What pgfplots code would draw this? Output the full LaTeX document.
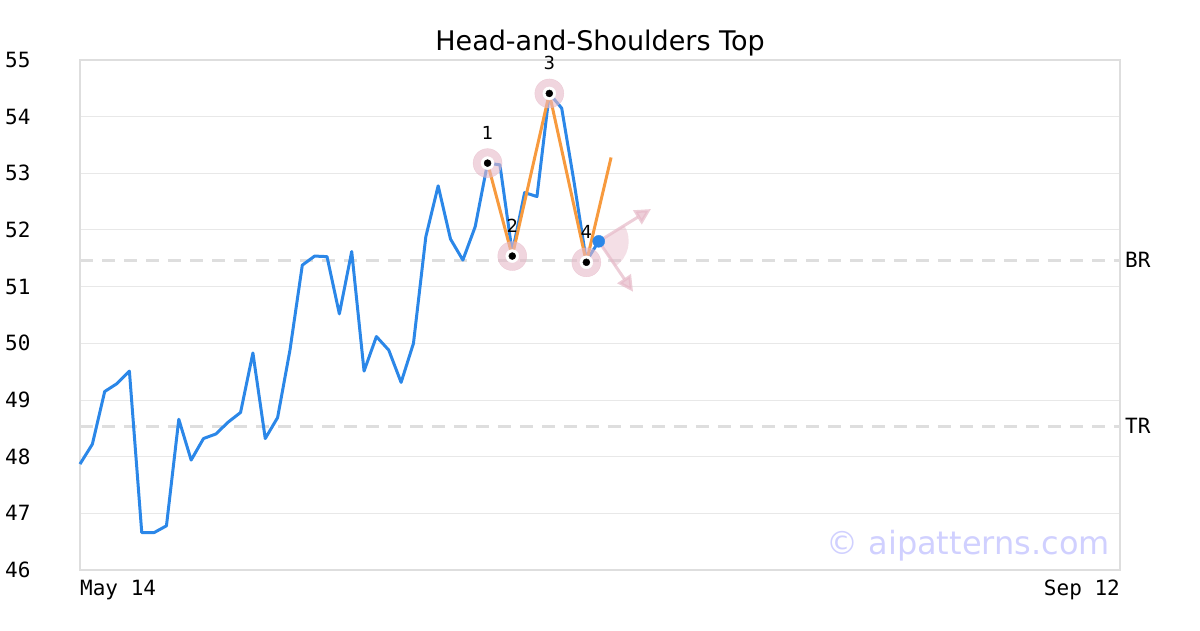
\documentclass[border=0pt]{standalone}
\usepackage{fontspec}
\setmainfont{DejaVu Sans}
\newfontfamily\monofont{DejaVu Sans Mono}
\usepackage{pgfplots}
\pgfplotsset{compat=1.18}
\usetikzlibrary{arrows.meta}
\definecolor{bl}{RGB}{43,135,232}
\definecolor{orng}{RGB}{247,154,62}
\definecolor{pk}{RGB}{230,185,200}
\definecolor{grd}{RGB}{232,232,232}
\definecolor{frm}{RGB}{222,222,222}
\definecolor{wm}{RGB}{208,208,255}
\begin{document}
\begin{tikzpicture}[x=1pt,y=1pt]
\useasboundingbox (0,0) rectangle (1200,630);
\begin{axis}[
  at={(80pt,60pt)}, anchor=south west, scale only axis,
  width=1040pt, height=510pt,
  xmin=0, xmax=84.21, ymin=46, ymax=55,
  ytick={46,47,...,55},
  ymajorgrids, grid style={grd, line width=1pt},
  axis line style={frm, line width=2.5pt},
  major tick length=0pt,
  tick label style={font=\fontsize{21}{25}\monofont},
  /pgf/number format/assume math mode=true,
  yticklabel style={anchor=west, inner sep=0pt, xshift=-75pt},
  xtick={0}, xticklabels={May 14},
  xticklabel style={anchor=north west, inner sep=0pt, yshift=-10pt},
  extra x ticks={84.21}, extra x tick labels={Sep 12},
  extra x tick style={xticklabel style={anchor=north east}},
  title={Head-and-Shoulders Top},
  title style={at={(0.5,1)}, anchor=base, inner sep=0pt, yshift=3pt, font=\fontsize{27}{32}\selectfont},
  clip=false,
]
% reference lines
\addplot[color=frm, line width=3pt, dash pattern=on 13pt off 9pt] coordinates {(0,51.47) (84.21,51.47)};
\addplot[color=frm, line width=3pt, dash pattern=on 13pt off 9pt] coordinates {(0,48.54) (84.21,48.54)};
% price
\addplot[color=bl, line width=3pt, line join=round] coordinates {
(0,47.87) (1,48.22) (2,49.15) (3,49.29) (4,49.51) (5,46.66) (6,46.66) (7,46.78)
(8,48.66) (9,47.94) (10,48.32) (11,48.40) (12,48.61) (13,48.78) (14,49.83) (15,48.32)
(16,48.69) (17,49.88) (18,51.38) (19,51.54) (20,51.53) (21,50.52) (22,51.62) (23,49.51)
(24,50.12) (25,49.88) (26,49.31) (27,50.00) (28,51.88) (29,52.78) (30,51.84) (31,51.47)
(32,52.06) (33,53.18) (34,53.15) (35,51.60) (36,52.66) (37,52.59) (38,54.41) (39,54.15)
(40,52.85) (41,51.45) (42,51.80)};
% wedge and arrows
\fill[pk, opacity=0.45] (axis cs:42,51.8) -- +(-57:30pt) arc[start angle=-57, end angle=32, radius=30pt] -- cycle;
\addplot[color=pk, opacity=0.7, line width=3pt, -{Triangle[length=16pt,width=16pt]}] coordinates {(42,51.8) (46.23,52.37)};
\addplot[color=pk, opacity=0.7, line width=3pt, -{Triangle[length=16pt,width=16pt]}] coordinates {(42,51.8) (44.78,50.91)};
% pink halos
\addplot[only marks, mark=*, mark size=14.5pt, color=pk, fill opacity=0.6, draw opacity=0.6, line width=0.4pt] coordinates {(33,53.18) (35,51.54) (38,54.41) (41,51.43)};
% pattern line
\addplot[color=orng, line width=3pt, line join=round] coordinates {(33,53.18) (35,51.54) (38,54.41) (41,51.43) (43,53.28)};
\addplot[only marks, mark=*, mark size=6.5pt, color=white, line width=0.4pt] coordinates {(33,53.18) (35,51.54) (38,54.41) (41,51.43)};
\addplot[only marks, mark=*, mark size=3.5pt, color=black, line width=0.4pt] coordinates {(33,53.18) (35,51.54) (38,54.41) (41,51.43)};
\addplot[only marks, mark=*, mark size=6pt, color=bl, line width=0.4pt] coordinates {(42,51.80)};
% point labels
\node[font=\fontsize{18}{22}\selectfont, inner sep=0pt] at (axis cs:33,53.18) [yshift=30pt] {1};
\node[font=\fontsize{18}{22}\selectfont, inner sep=0pt] at (axis cs:35,51.54) [yshift=30pt] {2};
\node[font=\fontsize{18}{22}\selectfont, inner sep=0pt] at (axis cs:38,54.41) [yshift=30pt] {3};
\node[font=\fontsize{18}{22}\selectfont, inner sep=0pt] at (axis cs:41,51.43) [yshift=30pt] {4};
% line labels
\node[anchor=west, inner sep=0pt, xshift=5pt, font=\fontsize{21}{25}\monofont] at (axis cs:84.21,51.47) {BR};
\node[anchor=west, inner sep=0pt, xshift=5pt, font=\fontsize{21}{25}\monofont] at (axis cs:84.21,48.54) {TR};
% watermark
\node[anchor=base east, inner sep=0pt, xshift=-10pt, yshift=16pt, text=wm, font=\fontsize{32}{38}\selectfont] at (rel axis cs:1,0) {© aipatterns.com};
\end{axis}
\end{tikzpicture}
\end{document}
